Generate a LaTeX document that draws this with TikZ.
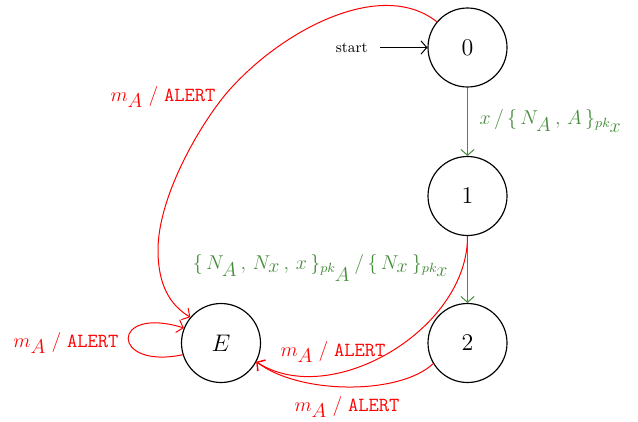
\documentclass[tikz,border=0pt]{standalone}
\usetikzlibrary{arrows.meta}
\definecolor{grn}{RGB}{70,140,60}
\newcommand\lo[1]{_{\textstyle #1}}
\begin{document}
\begin{tikzpicture}[x=0.6pt,y=-0.6pt,
  state/.style={circle,draw,line width=0.7pt,minimum size=47.4pt,inner sep=0pt,font=\Large},
  >={Straight Barb[length=3.5pt,width=8pt]},
  redge/.style={->,red,line width=0.6pt},
  gedge/.style={->,grn,line width=0.6pt},
  rlbl/.style={text=red,inner sep=0pt,font=\large},
  glbl/.style={text=grn,inner sep=0pt,font=\large}]
\useasboundingbox (0,0) rectangle (638,421);
\node[state] (s0) at (467.5,47.5) {$0$};
\node[state] (s1) at (467.5,196) {$1$};
\node[state] (s2) at (467.5,343) {$2$};
\node[state] (sE) at (221,343) {$E$};
\coordinate (st) at (380,47.5);
\node[font=\small,anchor=east,inner sep=0pt] (stl) at (368,47.5) {start};
\draw[->,line width=0.6pt] (st) -- (s0);
% green edges
\draw[gedge] (s0) -- (s1);
\node[glbl] (l01) at (551,121) {$x\,/\,\{\,N\lo{A}\,,\,A\,\}_{pk\lo{x}}$};
\draw[gedge] (s1) -- (s2);
\node[glbl] (l12) at (321,268) {$\{\,N\lo{A}\,,\,N\lo{x}\,,\,x\,\}_{pk\lo{A}}\,/\,\{\,N\lo{x}\,\}_{pk\lo{x}}$};
% red edges
\draw[redge] (s0.140) .. controls (380,-23) and (278,32) .. (225,95)
  .. controls (195,132) and (158,200) .. (158,250)
  .. controls (158,285) and (170,305) .. (sE.140);
\node[rlbl] (l0E) at (163,97) {$m\lo{A}\;/\;\mathtt{ALERT}$};
\draw[redge] (sE.197) .. controls (110,370) and (110,305) .. (sE.158);
\node[rlbl] (lEE) at (66,343) {$m\lo{A}\;/\;\mathtt{ALERT}$};
\draw[redge] (s1.270) .. controls (468,330) and (330,410) .. (sE.-28);
\node[rlbl] (l1E) at (333,352) {$m\lo{A}\;/\;\mathtt{ALERT}$};
\draw[redge] (s2.211) .. controls (400,395) and (300,395) .. (sE.-28);
\node[rlbl] (l2E) at (347,407) {$m\lo{A}\;/\;\mathtt{ALERT}$};
\end{tikzpicture}
\end{document}
